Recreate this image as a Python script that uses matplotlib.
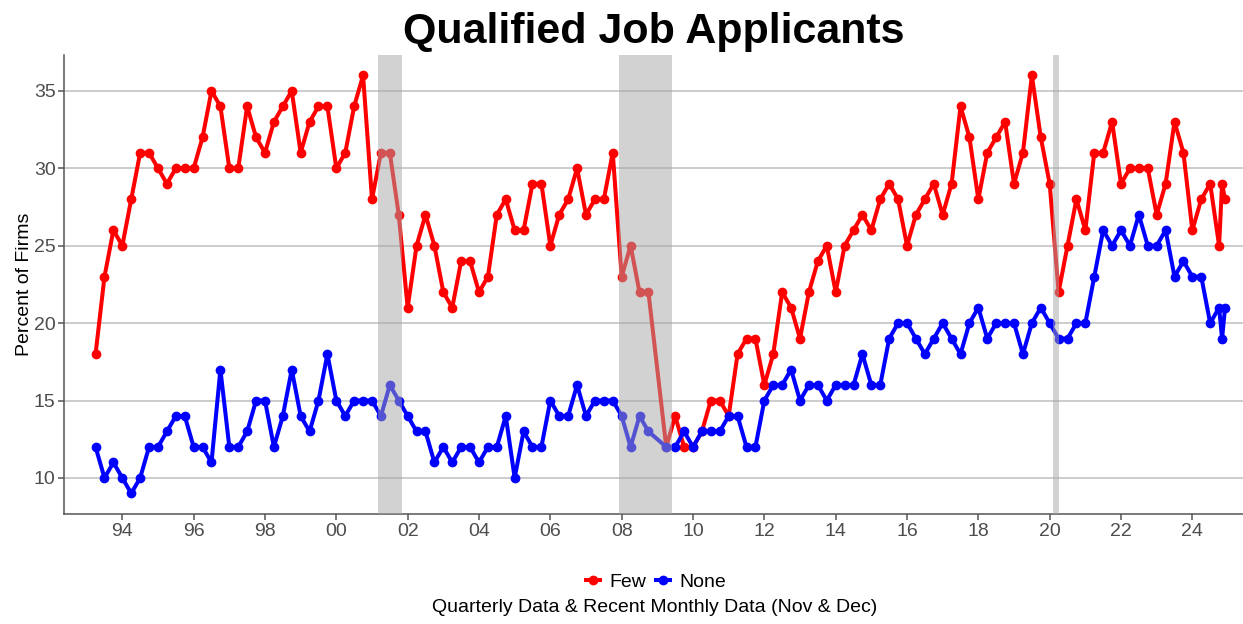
import numpy as np
import matplotlib
matplotlib.use("Agg")
import matplotlib.pyplot as plt
from matplotlib.lines import Line2D

plt.rcParams['font.family'] = ['Liberation Sans', 'DejaVu Sans']

# quarterly survey dates (Jan/Apr/Jul/Oct) from Apr 1993 to Oct 2024, Jan 2009 not asked
quarters = [y + q / 4 for y in range(1993, 2025) for q in range(4)]
quarters = [d for d in quarters if d >= 1993.25 and d != 2009.0]
# recent monthly readings: Nov & Dec 2024
months = [2024 + 10 / 12, 2024 + 11 / 12]
dates = quarters + months

few = [18, 23, 26,
       25, 28, 31, 31,
       30, 29, 30, 30,
       30, 32, 35, 34,
       30, 30, 34, 32,
       31, 33, 34, 35,
       31, 33, 34, 34,
       30, 31, 34, 36,
       28, 31, 31, 27,
       21, 25, 27, 25,
       22, 21, 24, 24,
       22, 23, 27, 28,
       26, 26, 29, 29,
       25, 27, 28, 30,
       27, 28, 28, 31,
       23, 25, 22, 22,
       12, 14, 12,
       12, 13, 15, 15,
       14, 18, 19, 19,
       16, 18, 22, 21,
       19, 22, 24, 25,
       22, 25, 26, 27,
       26, 28, 29, 28,
       25, 27, 28, 29,
       27, 29, 34, 32,
       28, 31, 32, 33,
       29, 31, 36, 32,
       29, 22, 25, 28,
       26, 31, 31, 33,
       29, 30, 30, 30,
       27, 29, 33, 31,
       26, 28, 29, 25,
       29, 28]

none = [12, 10, 11,
        10, 9, 10, 12,
        12, 13, 14, 14,
        12, 12, 11, 17,
        12, 12, 13, 15,
        15, 12, 14, 17,
        14, 13, 15, 18,
        15, 14, 15, 15,
        15, 14, 16, 15,
        14, 13, 13, 11,
        12, 11, 12, 12,
        11, 12, 12, 14,
        10, 13, 12, 12,
        15, 14, 14, 16,
        14, 15, 15, 15,
        14, 12, 14, 13,
        12, 12, 13,
        12, 13, 13, 13,
        14, 14, 12, 12,
        15, 16, 16, 17,
        15, 16, 16, 15,
        16, 16, 16, 18,
        16, 16, 19, 20,
        20, 19, 18, 19,
        20, 19, 18, 20,
        21, 19, 20, 20,
        20, 18, 20, 21,
        20, 19, 19, 20,
        20, 23, 26, 25,
        26, 25, 27, 25,
        25, 26, 23, 24,
        23, 23, 20, 21,
        19, 21]

# recessions: Mar-Nov 2001, Dec 2007-Jun 2009, Feb-Apr 2020
rec_start = [2001 + 2 / 12, 2007 + 11 / 12, 2020 + 1 / 12]
rec_end = [2001 + 10 / 12, 2009 + 5 / 12, 2020 + 3 / 12]

tick_years = list(range(1994, 2025, 2))
tick_labels = ["%02d" % (y % 100) for y in tick_years]

fig = plt.figure(figsize=(12.43, 6.24), dpi=100)
ax = fig.add_axes([64 / 1243, 1 - 514.3 / 624, 1 - 64 / 1243, (514.3 - 54.5) / 624])

ax.plot(dates, few, color='#ff0000', lw=2.9, marker='o', ms=6, zorder=3)
ax.plot(dates, none, color='#0000ff', lw=2.9, marker='o', ms=6, zorder=4)

for s, e in zip(rec_start, rec_end):
    ax.axvspan(s, e, color='#a7a7a7', alpha=0.5, lw=0, zorder=5)

ax.set_xlim(1992.365, 2025.42)
ax.set_ylim(7.65, 37.35)
ax.set_xticks(tick_years)
ax.set_xticklabels(tick_labels)
ax.set_yticks([10, 15, 20, 25, 30, 35])

ax.grid(axis='y', color='#bebebe', lw=1.1, zorder=0)
ax.set_axisbelow(True)
for side in ['top', 'right']:
    ax.spines[side].set_visible(False)
for side in ['left', 'bottom']:
    ax.spines[side].set_color('#555555')
    ax.spines[side].set_linewidth(1.1)
ax.tick_params(axis='both', colors='#555555', labelcolor='#4d4d4d',
               labelsize=14, length=4, width=1.1, pad=2)

ax.set_ylabel('Percent of Firms', fontsize=14, labelpad=1)
ax.set_title('Qualified Job Applicants', fontsize=31, fontweight='bold', pad=8)

handles = [Line2D([], [], color='#ff0000', lw=2.9, marker='o', ms=6),
           Line2D([], [], color='#0000ff', lw=2.9, marker='o', ms=6)]
fig.legend(handles, ['Few', 'None'], loc='center', bbox_to_anchor=(656 / 1243, 1 - 582 / 624),
           ncol=2, frameon=False, fontsize=14, handlelength=0.7, handletextpad=0.5,
           columnspacing=0.5)
fig.text(655 / 1243, 1 - 608 / 624, 'Quarterly Data & Recent Monthly Data (Nov & Dec)',
         ha='center', va='center', fontsize=14)

fig.savefig('out.png', dpi=100)
